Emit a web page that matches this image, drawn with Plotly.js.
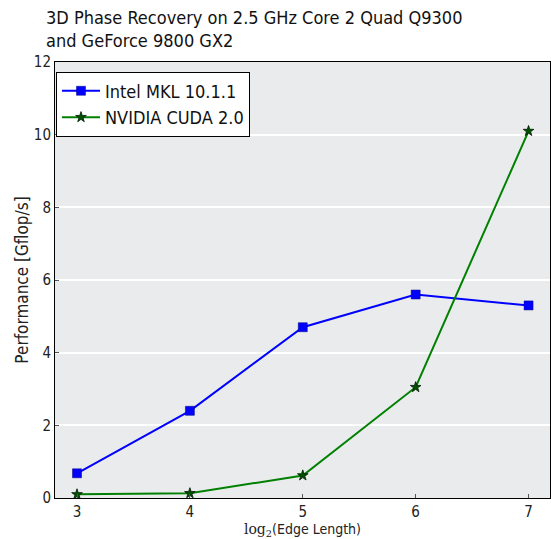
<!DOCTYPE html>
<html><head><meta charset="utf-8">
<script src="https://cdn.plot.ly/plotly-3.0.1.min.js"></script>
<style>html,body{margin:0;padding:0;background:#fff}#c{width:551px;height:539px}</style>
</head><body><div id="c"></div>
<script>
const edgeLog2 = [3, 4, 5, 6, 7];
const mklPerf = [0.68, 2.4, 4.7, 5.6, 5.3];
const cudaPerf = [0.1, 0.13, 0.62, 3.05, 10.1];
const seriesNames = ['Intel MKL 10.1.1', 'NVIDIA CUDA 2.0'];
const yTicks = [0, 2, 4, 6, 8, 10, 12];
const xTicks = [3, 4, 5, 6, 7];
const titleText = '3D Phase Recovery on 2.5 GHz Core 2 Quad Q9300<br>and GeForce 9800 GX2';

const F = "'DejaVu Sans Condensed', 'DejaVu Sans', sans-serif";

const traces = [
  {x: edgeLog2, y: mklPerf, name: seriesNames[0], mode: 'lines+markers',
   line: {color: '#0000ff', width: 2},
   marker: {symbol: 'square', size: 9, color: '#0000ff', line: {color: '#000080', width: 0.5}}},
  {x: edgeLog2, y: cudaPerf, name: seriesNames[1], mode: 'lines+markers',
   line: {color: '#008000', width: 2},
   marker: {symbol: 'star', size: 8, color: '#005000', line: {color: '#001a00', width: 0.8}}}
];

const layout = {
  width: 551, height: 539,
  margin: {l: 55, r: 1, t: 62, b: 41},
  paper_bgcolor: '#ffffff', plot_bgcolor: '#eaebed',
  font: {family: F, color: '#222'},
  annotations: [{text: titleText, xref: 'paper', yref: 'paper', x: -0.022, y: 1.021,
                 xanchor: 'left', yanchor: 'bottom', align: 'left', showarrow: false,
                 font: {family: F, size: 18, color: '#111'}}],
  xaxis: {range: [2.805, 7.19], tickvals: xTicks, ticktext: xTicks.map(String),
          showgrid: false, zeroline: false, showline: true, linecolor: '#000', linewidth: 1, mirror: true,
          ticks: 'inside', ticklen: 4, tickcolor: '#555', tickfont: {size: 15, color: '#222'},
          title: {text: '<span style="font-family:DejaVu Serif">log<sub>2</sub></span>(Edge Length)', font: {size: 14, color: '#222'}, standoff: 7}},
  yaxis: {range: [0, 12], tickvals: yTicks, ticktext: yTicks.map(String),
          showgrid: true, gridcolor: '#ffffff', gridwidth: 2, zeroline: false,
          showline: true, linecolor: '#000', linewidth: 1, mirror: true,
          ticks: 'inside', ticklen: 4, tickcolor: '#555', tickfont: {size: 15, color: '#222'},
          title: {text: 'Performance [Gflop/s]', font: {size: 17, color: '#222'}, standoff: 0}},
  legend: {x: 0.002, y: 0.978, xanchor: 'left', yanchor: 'top', bgcolor: '#ffffff',
           bordercolor: '#000', borderwidth: 1, itemwidth: 38, font: {size: 18, color: '#111'}},
  showlegend: true
};
Plotly.newPlot('c', traces, layout, {displayModeBar: false, staticPlot: true});
</script></body></html>
